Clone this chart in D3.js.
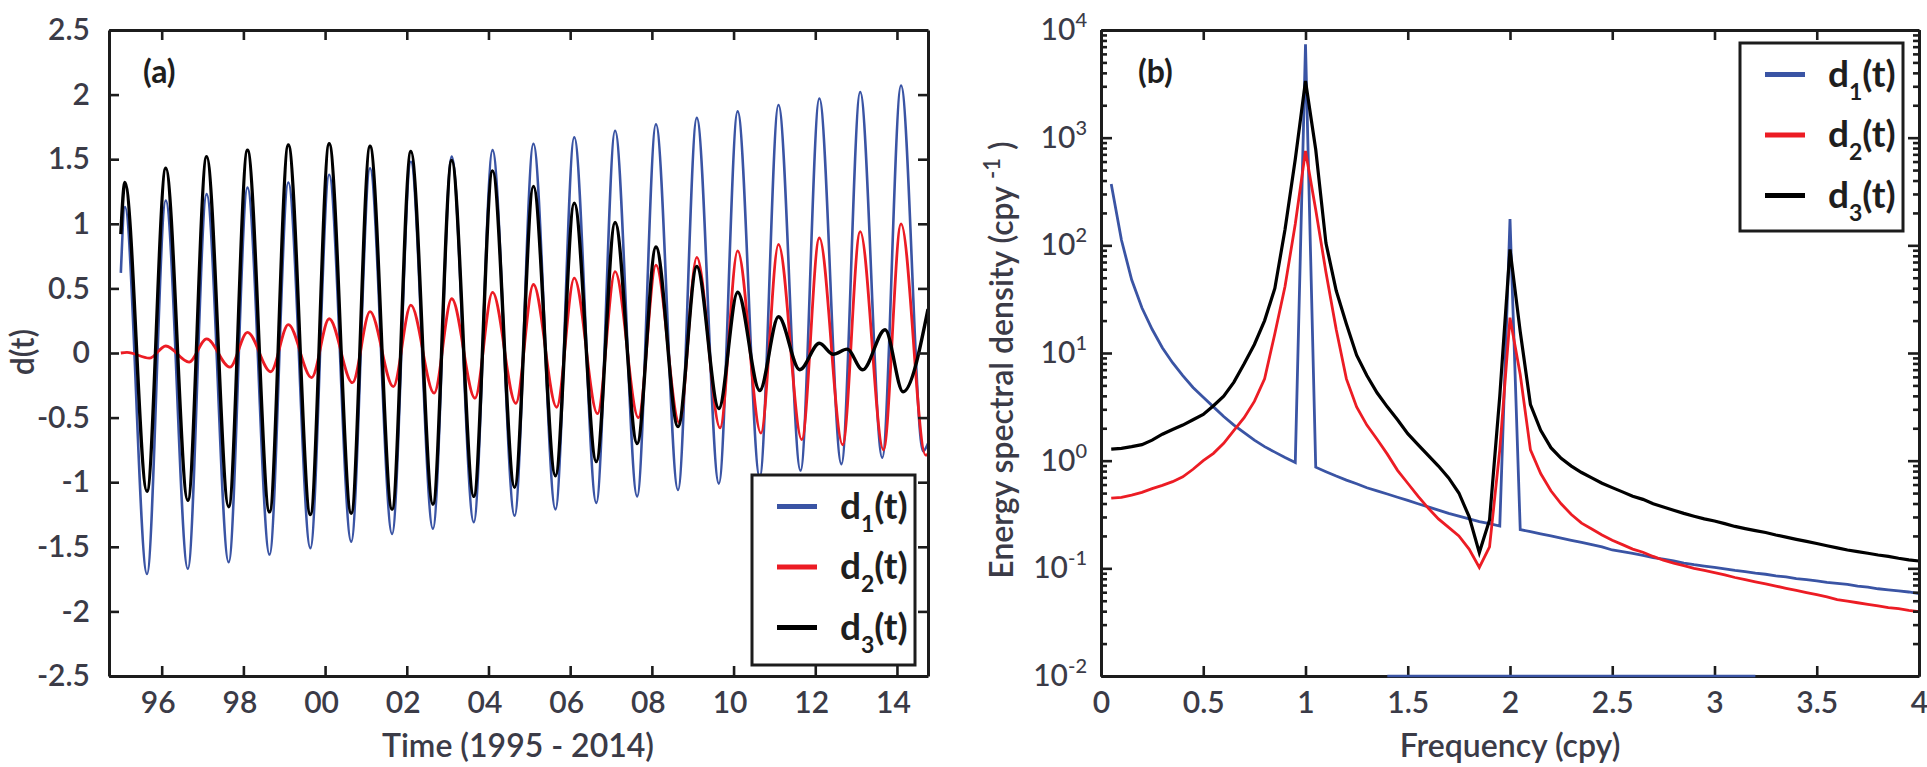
<!DOCTYPE html>
<html><head><meta charset="utf-8">
<script src="https://cdn.jsdelivr.net/npm/d3@7"></script>
<style>
body{margin:0;background:#fff}
text{font-family:Lato,"Open Sans",sans-serif}
</style></head>
<body><svg id="c" width="1927" height="767"></svg>
<script>
// ---------------- DATA ----------------
// Panel (a): time series extrema (decimal years)
const d1Times = [1995.00,1995.10,1995.64,1996.10,1996.64,1997.10,1997.64,1998.10,1998.64,1999.10,1999.64,2000.10,2000.64,2001.10,2001.64,2002.10,2002.64,2003.10,2003.64,2004.10,2004.64,2005.10,2005.64,2006.10,2006.64,2007.10,2007.64,2008.10,2008.64,2009.10,2009.64,2010.10,2010.64,2011.10,2011.64,2012.10,2012.64,2013.10,2013.64,2014.10,2014.64,2014.76];
const d1Values = [0.62,1.13,-1.71,1.18,-1.67,1.23,-1.62,1.28,-1.56,1.32,-1.51,1.38,-1.46,1.43,-1.40,1.48,-1.36,1.52,-1.31,1.57,-1.26,1.62,-1.21,1.67,-1.16,1.72,-1.11,1.77,-1.06,1.82,-1.01,1.87,-0.96,1.92,-0.91,1.97,-0.86,2.02,-0.81,2.07,-0.76,-0.70];

const d2Times = [1995.00,1995.15,1995.70,1996.10,1996.67,1997.10,1997.67,1998.10,1998.67,1999.10,1999.67,2000.10,2000.67,2001.10,2001.67,2002.10,2002.67,2003.10,2003.67,2004.10,2004.67,2005.10,2005.67,2006.10,2006.67,2007.10,2007.67,2008.10,2008.67,2009.10,2009.67,2010.10,2010.67,2011.10,2011.67,2012.10,2012.67,2013.10,2013.67,2014.10,2014.70,2014.76];
const d2Values = [0.00,0.005,-0.04,0.054,-0.07,0.11,-0.11,0.16,-0.145,0.22,-0.19,0.265,-0.23,0.32,-0.26,0.37,-0.31,0.42,-0.35,0.47,-0.39,0.53,-0.42,0.58,-0.47,0.63,-0.50,0.68,-0.54,0.74,-0.58,0.79,-0.62,0.84,-0.67,0.89,-0.71,0.94,-0.75,1.00,-0.79,-0.785];

const d3Times = [1995.00,1995.10,1995.64,1996.10,1996.64,1997.10,1997.64,1998.10,1998.64,1999.10,1999.64,2000.10,2000.64,2001.10,2001.64,2002.10,2002.64,2003.10,2003.64,2004.10,2004.64,2005.10,2005.64,2006.10,2006.64,2007.10,2007.64,2008.10,2008.64,2009.10,2009.64,2010.10,2010.64,2011.10,2011.62,2012.10,2012.44,2012.78,2013.16,2013.71,2014.15,2014.76];
const d3Values = [0.92,1.32,-1.07,1.43,-1.14,1.52,-1.19,1.57,-1.23,1.61,-1.25,1.62,-1.24,1.60,-1.21,1.56,-1.17,1.49,-1.11,1.41,-1.04,1.29,-0.95,1.16,-0.84,1.01,-0.70,0.82,-0.57,0.67,-0.43,0.47,-0.29,0.28,-0.13,0.075,-0.01,0.03,-0.13,0.18,-0.30,0.34];

const yearTicks = [1996,1998,2000,2002,2004,2006,2008,2010,2012,2014];
const yearTickLabels = ["96","98","00","02","04","06","08","10","12","14"];
const dTicks = [-2.5,-2,-1.5,-1,-0.5,0,0.5,1,1.5,2,2.5];

// Panel (b): energy spectral density on a 0.05 cpy grid (0.05 ... 4.00)
const freqStep = 0.05;
const esd1 = [372,112,47.9,26.3,16.6,11.2,8.13,6.17,4.79,3.89,3.16,2.57,2.14,1.82,1.55,1.35,1.20,1.07,0.96,7360,
  0.87,0.79,0.72,0.66,0.61,0.56,0.525,0.49,0.457,0.427,0.398,0.372,0.347,0.324,0.305,0.288,0.272,0.26,0.247,175,
  0.229,0.219,0.209,0.20,0.191,0.182,0.174,0.166,0.158,0.148,0.143,0.138,0.132,0.126,0.122,0.117,0.112,0.108,0.105,0.102,
  0.0989,0.0955,0.0933,0.0902,0.0881,0.0851,0.0832,0.0804,0.0785,0.0764,0.0741,0.0724,0.0708,0.0684,0.0668,0.0646,0.0631,0.0617,0.0603,0.0583];
const esd2 = [0.448,0.457,0.479,0.507,0.55,0.589,0.638,0.708,0.832,1.0,1.17,1.45,1.91,2.51,3.55,5.75,15.1,41.7,158,752,
  214,56.2,16.6,5.75,3.16,2.14,1.58,1.15,0.813,0.617,0.468,0.363,0.288,0.24,0.20,0.151,0.102,0.158,1.26,21.3,
  6.31,1.26,0.759,0.525,0.398,0.316,0.263,0.232,0.204,0.182,0.166,0.151,0.141,0.129,0.119,0.112,0.106,0.100,0.0955,0.0912,
  0.0871,0.0822,0.0785,0.075,0.0716,0.0684,0.0653,0.0624,0.0596,0.0569,0.0543,0.0513,0.0495,0.0479,0.0462,0.0447,0.0432,0.0422,0.0407,0.0396];
const esd3 = [1.28,1.30,1.35,1.41,1.55,1.76,1.95,2.14,2.40,2.69,3.24,3.98,5.37,7.94,12.0,20.0,39.8,141,631,3360,
  776,105,38,18.6,9.55,6.17,4.27,3.16,2.40,1.78,1.41,1.12,0.891,0.692,0.501,0.302,0.14,0.282,3.98,91.8,
  15.8,3.31,1.91,1.32,1.05,0.891,0.776,0.692,0.617,0.562,0.513,0.468,0.437,0.398,0.372,0.347,0.324,0.305,0.288,0.275,
  0.26,0.245,0.234,0.224,0.215,0.204,0.195,0.186,0.178,0.17,0.162,0.155,0.148,0.143,0.138,0.133,0.129,0.124,0.12,0.117];
const d1FloorRange = [1.4, 3.2];   // blue trace lying on the 10^-2 floor
const freqTicks = [0,0.5,1,1.5,2,2.5,3,3.5,4];
const decadeExps = [-2,-1,0,1,2,3,4];

const seriesColors = ["#3a54a4","#ec1c24","#000000"];
const legendSubs = ["1","2","3"];

// ---------------- DRAW ----------------
const svg = d3.select("#c");
const TXT = "#3b3b47", AX = "#1c1c1c";
const yTop = 30, yBot = 676;

function zip(t,v){ return t.map((x,i)=>({x, y:v[i]})); }

// ===== Panel (a) =====
const xa = d3.scaleLinear().domain([1994.71, 2014.76]).range([109, 928]);
const ya = d3.scaleLinear().domain([-2.5, 2.5]).range([yBot, yTop]);

svg.append("clipPath").attr("id","ca").append("rect")
  .attr("x",109).attr("y",yTop).attr("width",928-109).attr("height",yBot-yTop);

const lineA = d3.line().x(d=>xa(d.x)).y(d=>ya(d.y)).curve(d3.curveMonotoneX);
const gA = svg.append("g").attr("clip-path","url(#ca)");
[[d1Times,d1Values,2.6],[d2Times,d2Values,2.8],[d3Times,d3Values,3.4]].forEach((s,i)=>{
  gA.append("path").datum(zip(s[0],s[1])).attr("d",lineA)
    .attr("fill","none").attr("stroke",seriesColors[i]).attr("stroke-width",s[2])
    .attr("stroke-linejoin","round");
});

function styleAxis(g){
  g.selectAll(".domain").attr("stroke",AX).attr("stroke-width",3);
  g.selectAll(".tick line").attr("stroke",AX).attr("stroke-width",2.6);
  g.selectAll("text").attr("fill",TXT).style("font-size","30px").style("font-weight","600");
}

const axBa = svg.append("g").attr("transform",`translate(0,${yBot})`)
  .call(d3.axisBottom(xa).tickValues(yearTicks).tickFormat((d,i)=>yearTickLabels[i])
    .tickSizeInner(-10).tickSizeOuter(0).tickPadding(16));
styleAxis(axBa);
axBa.selectAll("text").attr("dx",-4);
const axTa = svg.append("g").attr("transform",`translate(0,${yTop})`)
  .call(d3.axisTop(xa).tickValues(yearTicks).tickFormat("").tickSizeInner(-10).tickSizeOuter(0));
styleAxis(axTa);
const axLa = svg.append("g").attr("transform",`translate(109,0)`)
  .call(d3.axisLeft(ya).tickValues(dTicks).tickFormat(d=>d3.format("")(d).replace("−","-"))
    .tickSizeInner(-10).tickSizeOuter(0).tickPadding(19));
styleAxis(axLa);
const axRa = svg.append("g").attr("transform",`translate(928,0)`)
  .call(d3.axisRight(ya).tickValues(dTicks).tickFormat("").tickSizeInner(-10).tickSizeOuter(0));
styleAxis(axRa);

svg.append("text").attr("x",143).attr("y",83).text("(a)")
  .attr("fill","#1e1e1e").style("font-size","32px").style("font-weight","700");
svg.append("text").attr("x",518).attr("y",757).attr("text-anchor","middle")
  .text("Time (1995 - 2014)").attr("fill",TXT).style("font-size","32px").style("font-weight","600");
svg.append("text").attr("transform","translate(34,352) rotate(-90)").attr("text-anchor","middle")
  .text("d(t)").attr("fill",TXT).style("font-size","32px").style("font-weight","600");

function legend(x0,y0,w,h){
  const g = svg.append("g");
  g.append("rect").attr("x",x0).attr("y",y0).attr("width",w).attr("height",h)
    .attr("fill","#fff").attr("stroke",AX).attr("stroke-width",3);
  legendSubs.forEach((s,i)=>{
    const cy = y0 + 31.5 + i*60.5;
    g.append("line").attr("x1",x0+25).attr("x2",x0+65).attr("y1",cy).attr("y2",cy)
      .attr("stroke",seriesColors[i]).attr("stroke-width",5);
    const t = g.append("text").attr("x",x0+88).attr("y",cy+12)
      .attr("fill","#1e1e1e").style("font-size","37px").style("font-weight","700");
    t.append("tspan").text("d");
    t.append("tspan").attr("dy",13).style("font-size","23px").text(s);
    t.append("tspan").attr("dy",-13).text("(t)");
  });
}
legend(752,475,163,190);

// ===== Panel (b) =====
const xb = d3.scaleLinear().domain([0,4]).range([1101,1919]);
const yb = d3.scaleLog().domain([1e-2,1e4]).range([yBot, yTop]);
svg.append("clipPath").attr("id","cb").append("rect")
  .attr("x",1101).attr("y",yTop).attr("width",1919-1101).attr("height",yBot-yTop);

const lineB = d3.line().x(d=>xb(d.x)).y(d=>yb(d.y));
const gB = svg.append("g").attr("clip-path","url(#cb)");
[[esd1,2.8],[esd2,2.8],[esd3,3.2]].forEach((s,i)=>{
  const pts = s[0].map((v,k)=>({x:(k+1)*freqStep, y:v}));
  gB.append("path").datum(pts).attr("d",lineB)
    .attr("fill","none").attr("stroke",seriesColors[i]).attr("stroke-width",s[1])
    .attr("stroke-linejoin","miter");
});

const majors = decadeExps.map(e=>Math.pow(10,e));
const minors = [];
decadeExps.slice(0,-1).forEach(e=>{ for(let m=2;m<10;m++) minors.push(m*Math.pow(10,e)); });

const axBb = svg.append("g").attr("transform",`translate(0,${yBot})`)
  .call(d3.axisBottom(xb).tickValues(freqTicks).tickFormat(d3.format("")).tickSizeInner(-10).tickSizeOuter(0).tickPadding(16));
styleAxis(axBb);
const axTb = svg.append("g").attr("transform",`translate(0,${yTop})`)
  .call(d3.axisTop(xb).tickValues(freqTicks).tickFormat("").tickSizeInner(-10).tickSizeOuter(0));
styleAxis(axTb);
[[1101,d3.axisLeft],[1919,d3.axisRight]].forEach(([xp,ax],j)=>{
  const gm = svg.append("g").attr("transform",`translate(${xp},0)`)
    .call(ax(yb).tickValues(minors).tickFormat("").tickSizeInner(-6).tickSizeOuter(0));
  styleAxis(gm);
  const gM = svg.append("g").attr("transform",`translate(${xp},0)`)
    .call(ax(yb).tickValues(majors).tickFormat(j===0?(d=>"10"):"").tickSizeInner(-11).tickSizeOuter(0).tickPadding(14));
  styleAxis(gM);
  if(j===0){
    gM.selectAll("text").each(function(d,i){
      const t = d3.select(this);
      t.style("font-weight","500");
      t.append("tspan").attr("dy",-13).style("font-size","20px").text(String(decadeExps[i]));
    });
  }
});

// blue trace on the floor
svg.append("line").attr("x1",xb(d1FloorRange[0])).attr("x2",xb(d1FloorRange[1]))
  .attr("y1",yb(1e-2)).attr("y2",yb(1e-2)).attr("stroke",seriesColors[0]).attr("stroke-width",2.6);

svg.append("text").attr("x",1138).attr("y",83).text("(b)")
  .attr("fill","#1e1e1e").style("font-size","32px").style("font-weight","700");
svg.append("text").attr("x",1510).attr("y",757).attr("text-anchor","middle")
  .text("Frequency (cpy)").attr("fill",TXT).style("font-size","32px").style("font-weight","600");
const yl = svg.append("text").attr("transform","translate(1013,360) rotate(-90)").attr("text-anchor","middle")
  .attr("fill",TXT).style("font-size","32px").style("font-weight","600");
yl.append("tspan").text("Energy spectral density (cpy ");
yl.append("tspan").attr("dy",-13).style("font-size","22px").text("-1");
yl.append("tspan").attr("dy",13).text(" )");

legend(1740,43,163,188);
</script>
</body></html>
